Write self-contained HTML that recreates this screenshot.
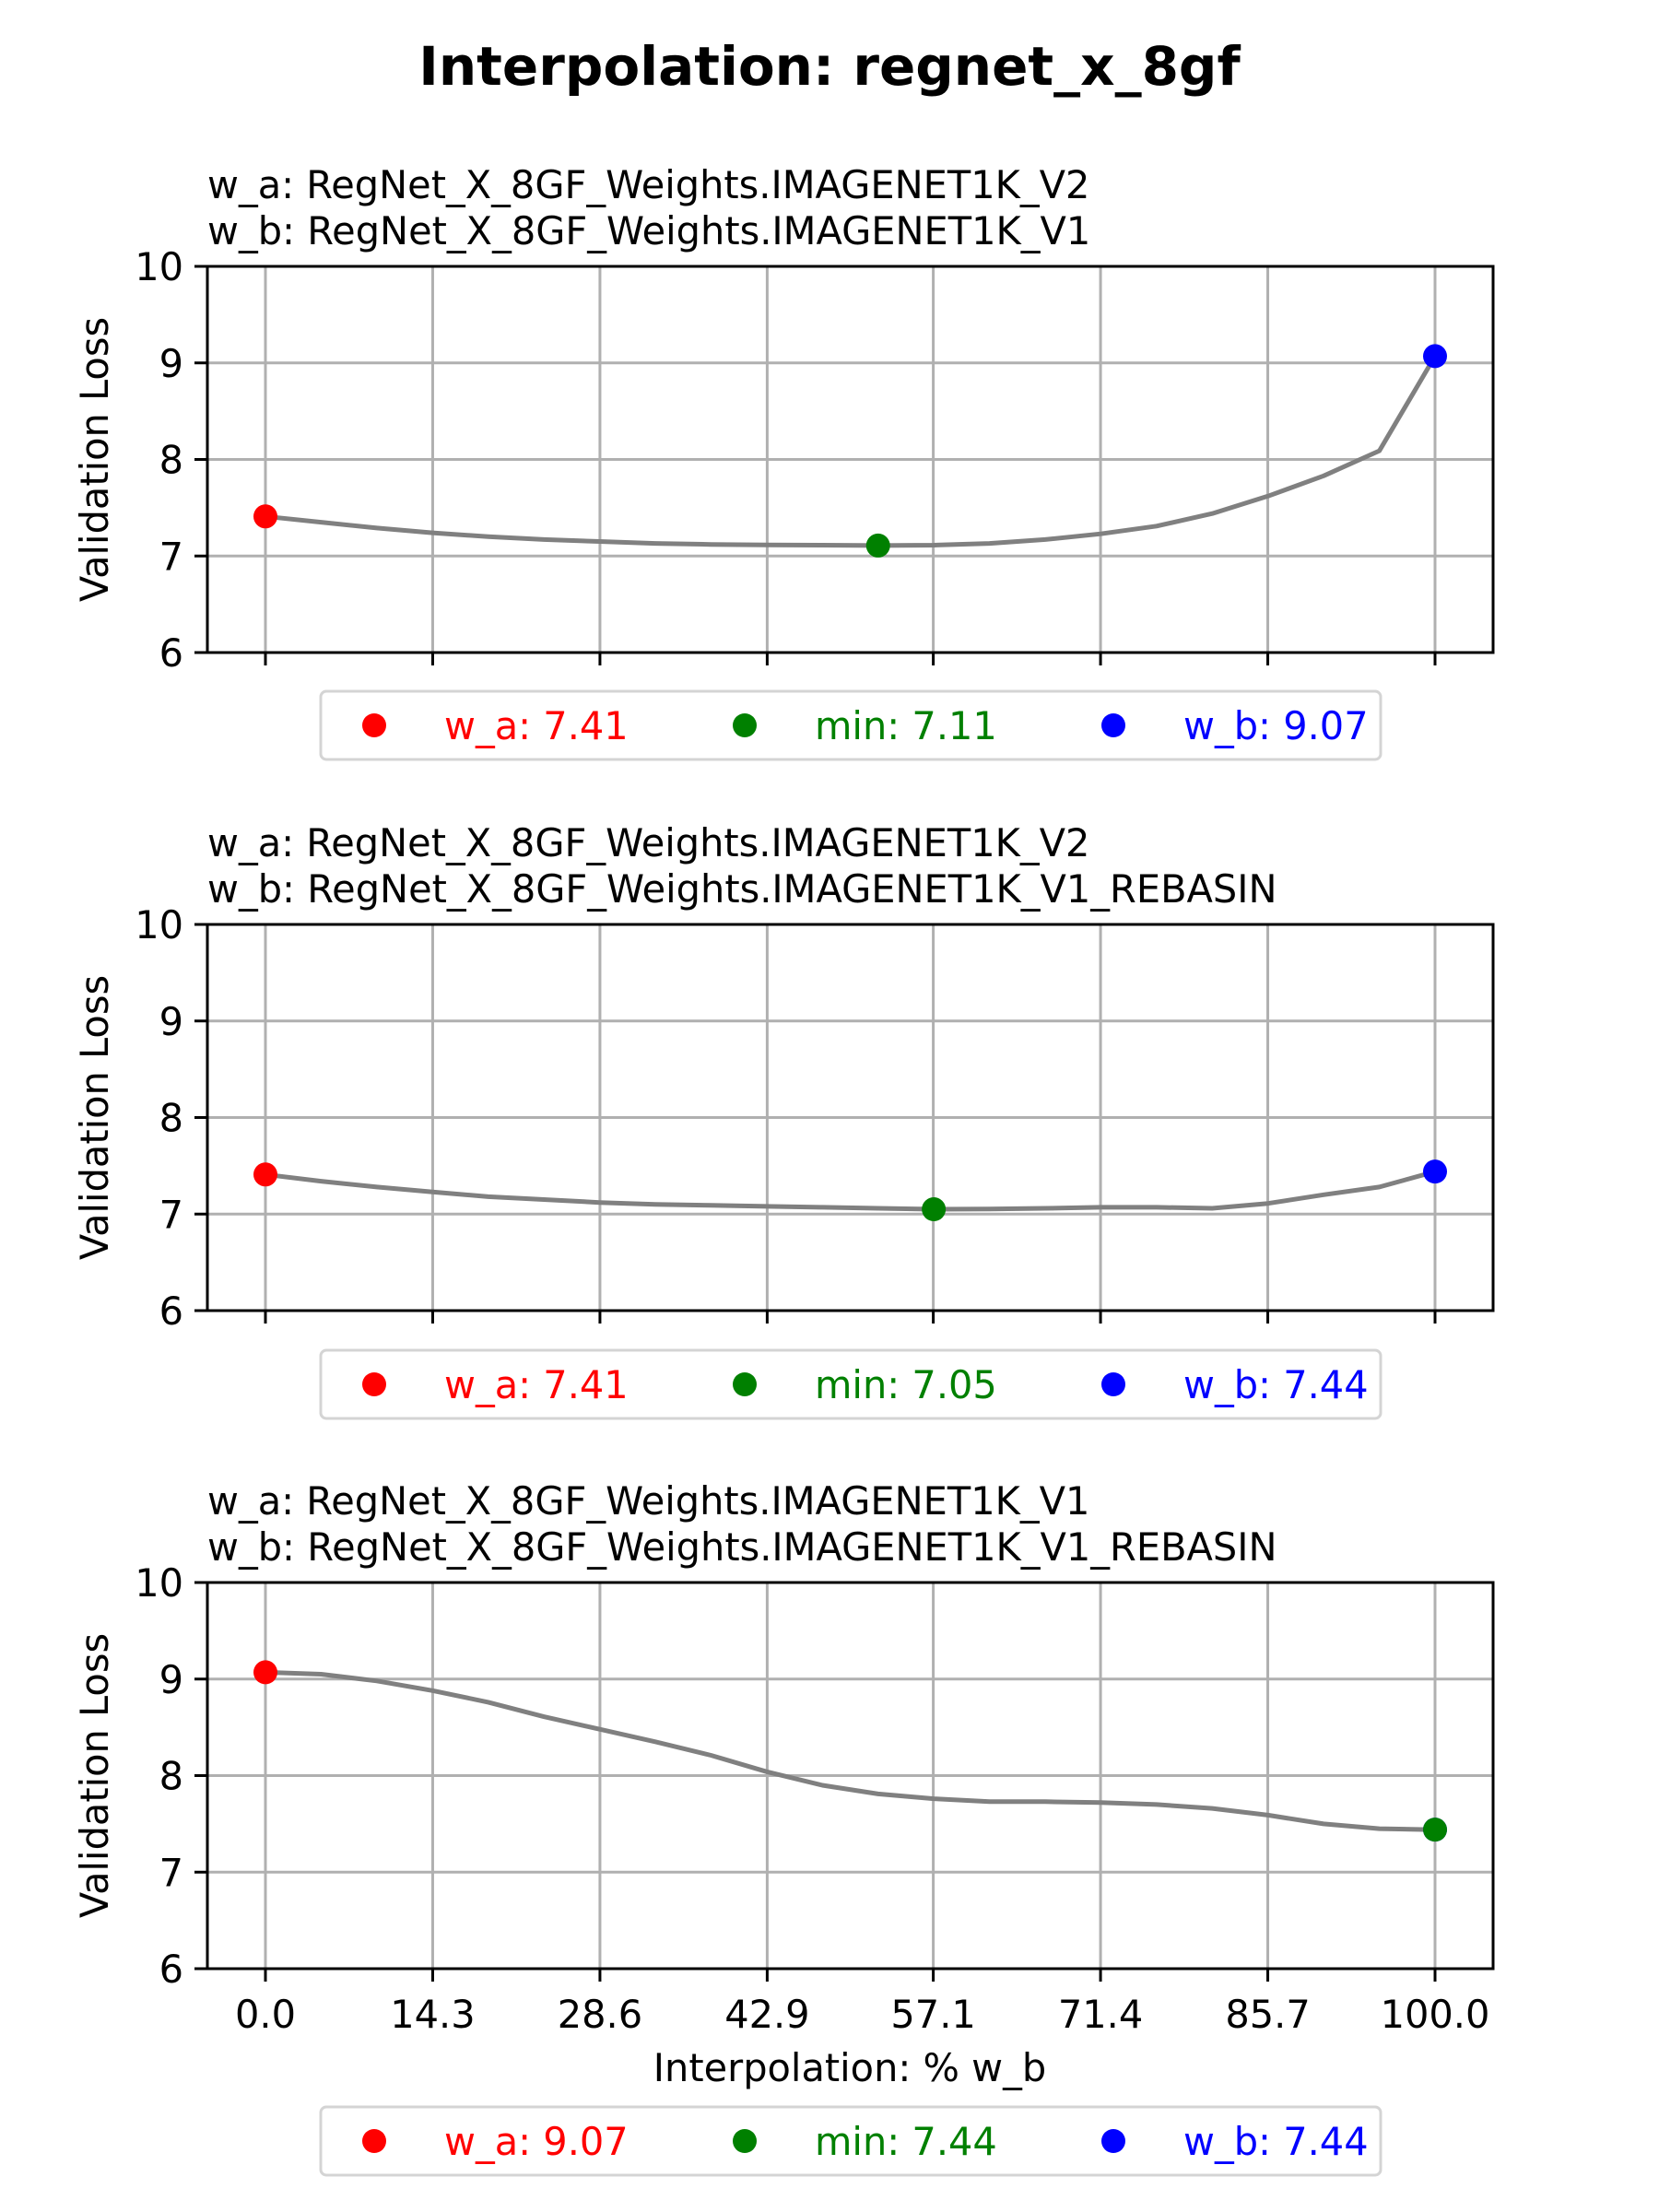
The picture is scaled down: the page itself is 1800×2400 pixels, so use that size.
<!DOCTYPE html>
<html><head><meta charset="utf-8"><style>
html,body{margin:0;padding:0;background:#fff;}
svg{display:block;font-family:"DejaVu Sans","Liberation Sans",sans-serif;}
</style></head><body>
<svg id="fig" width="1800" height="2400" viewBox="0 0 1800 2400">
<rect width="1800" height="2400" fill="#fff"/>
<text x="900" y="92" text-anchor="middle" font-size="58" font-weight="bold">Interpolation: regnet_x_8gf</text>
</svg>
<script>
const xTicks=[0,14.3,28.6,42.9,57.1,71.4,85.7,100];
const xTickLabels=["0.0","14.3","28.6","42.9","57.1","71.4","85.7","100.0"];
const yTicks=[6,7,8,9,10];
const titlesA=["w_a: RegNet_X_8GF_Weights.IMAGENET1K_V2","w_a: RegNet_X_8GF_Weights.IMAGENET1K_V2","w_a: RegNet_X_8GF_Weights.IMAGENET1K_V1"];
const titlesB=["w_b: RegNet_X_8GF_Weights.IMAGENET1K_V1","w_b: RegNet_X_8GF_Weights.IMAGENET1K_V1_REBASIN","w_b: RegNet_X_8GF_Weights.IMAGENET1K_V1_REBASIN"];
const loss1=[7.41,7.35,7.29,7.24,7.20,7.17,7.15,7.13,7.12,7.115,7.112,7.108,7.112,7.13,7.17,7.23,7.31,7.44,7.62,7.83,8.09,9.07];
const loss2=[7.41,7.34,7.28,7.23,7.18,7.15,7.12,7.10,7.09,7.08,7.07,7.06,7.05,7.052,7.06,7.07,7.07,7.06,7.11,7.20,7.28,7.44];
const loss3=[9.07,9.05,8.98,8.88,8.76,8.61,8.48,8.35,8.21,8.04,7.90,7.81,7.76,7.73,7.73,7.72,7.70,7.66,7.59,7.50,7.45,7.44];
const series=[loss1,loss2,loss3];
const NS="http://www.w3.org/2000/svg";
const svg=document.getElementById('fig');
function mk(tag,attrs,parent){const e=document.createElementNS(NS,tag);for(const k in attrs)e.setAttribute(k,attrs[k]);(parent||svg).appendChild(e);return e;}
const L=225,R=1620;
const xs=v=>288+(v/100)*1269;
const tops=[289,1003,1717],H=419;
const FS=41.5;
series.forEach((data,p)=>{
  const top=tops[p],bot=top+H;
  const ys=v=>bot-(v-6)/4*H;
  const g=mk('g',{});
  
  
  const t1=mk('text',{x:L,y:top-74,'font-size':FS},g);t1.textContent=titlesA[p];
  
  const t2=mk('text',{x:L,y:top-24,'font-size':FS},g);t2.textContent=titlesB[p];
  
  xTicks.forEach((v,i)=>{
    const gl=mk('line',{x1:xs(v),x2:xs(v),y1:top,y2:bot,stroke:'#b0b0b0','stroke-width':3},g);
    
    const tk=mk('line',{x1:xs(v),x2:xs(v),y1:bot,y2:bot+14,stroke:'#000','stroke-width':3},g);
    
    if(p===2){const tl=mk('text',{x:xs(v),y:bot+64,'font-size':FS,'text-anchor':'middle'},g);tl.textContent=xTickLabels[i];
      }
  });
  yTicks.forEach(v=>{
    const gl=mk('line',{x1:L,x2:R,y1:ys(v),y2:ys(v),stroke:'#b0b0b0','stroke-width':3},g);
    
    const tk=mk('line',{x1:L-14,x2:L,y1:ys(v),y2:ys(v),stroke:'#000','stroke-width':3},g);
    
    const tl=mk('text',{x:L-26,y:ys(v)+15,'font-size':FS,'text-anchor':'end'},g);tl.textContent=String(v);
    
  });
  const fr=mk('rect',{x:L,y:top,width:R-L,height:H,fill:'none',stroke:'#000','stroke-width':3},g);
  
  const yl=mk('text',{x:0,y:0,'font-size':FS,'text-anchor':'middle',transform:`translate(117,${top+H/2}) rotate(-90)`},g);
  yl.textContent='Validation Loss';
  
  const n=data.length;
  const pts=data.map((v,i)=>xs(i*100/(n-1)).toFixed(1)+','+ys(v).toFixed(1)).join(' ');
  const line=mk('polyline',{points:pts,fill:'none',stroke:'#808080','stroke-width':5,'stroke-linejoin':'round'},g);
  
  let mi=0;data.forEach((v,i)=>{if(v<data[mi])mi=i;});
  const marks=[[0,'red','w_a'],[n-1,'blue','w_b'],[mi,'green','min']];
  marks.forEach(m=>{
    const c=mk('circle',{cx:xs(m[0]*100/(n-1)),cy:ys(data[m[0]]),r:13,fill:m[1]},g);
    
  });
  const ly=[750,1465,2286][p];
  const lg=mk('g',{},g);
  
  mk('rect',{x:348,y:ly,width:1150,height:74,rx:6,fill:'#fff',stroke:'#d4d4d4','stroke-width':3},lg);
  const entries=[['red','w_a: '+data[0].toFixed(2),406],['green','min: '+data[mi].toFixed(2),808],['blue','w_b: '+data[n-1].toFixed(2),1208]];
  entries.forEach(e=>{
    const c=mk('circle',{cx:e[2],cy:ly+37,r:13,fill:e[0]},lg);
    
    const t=mk('text',{x:e[2]+76,y:ly+52,'font-size':FS,fill:e[0]},lg);t.textContent=e[1];
    
  });
});
const xt=mk('text',{x:922,y:2258,'font-size':FS,'text-anchor':'middle'});
xt.textContent='Interpolation: % w_b';


</script>
</body></html>
